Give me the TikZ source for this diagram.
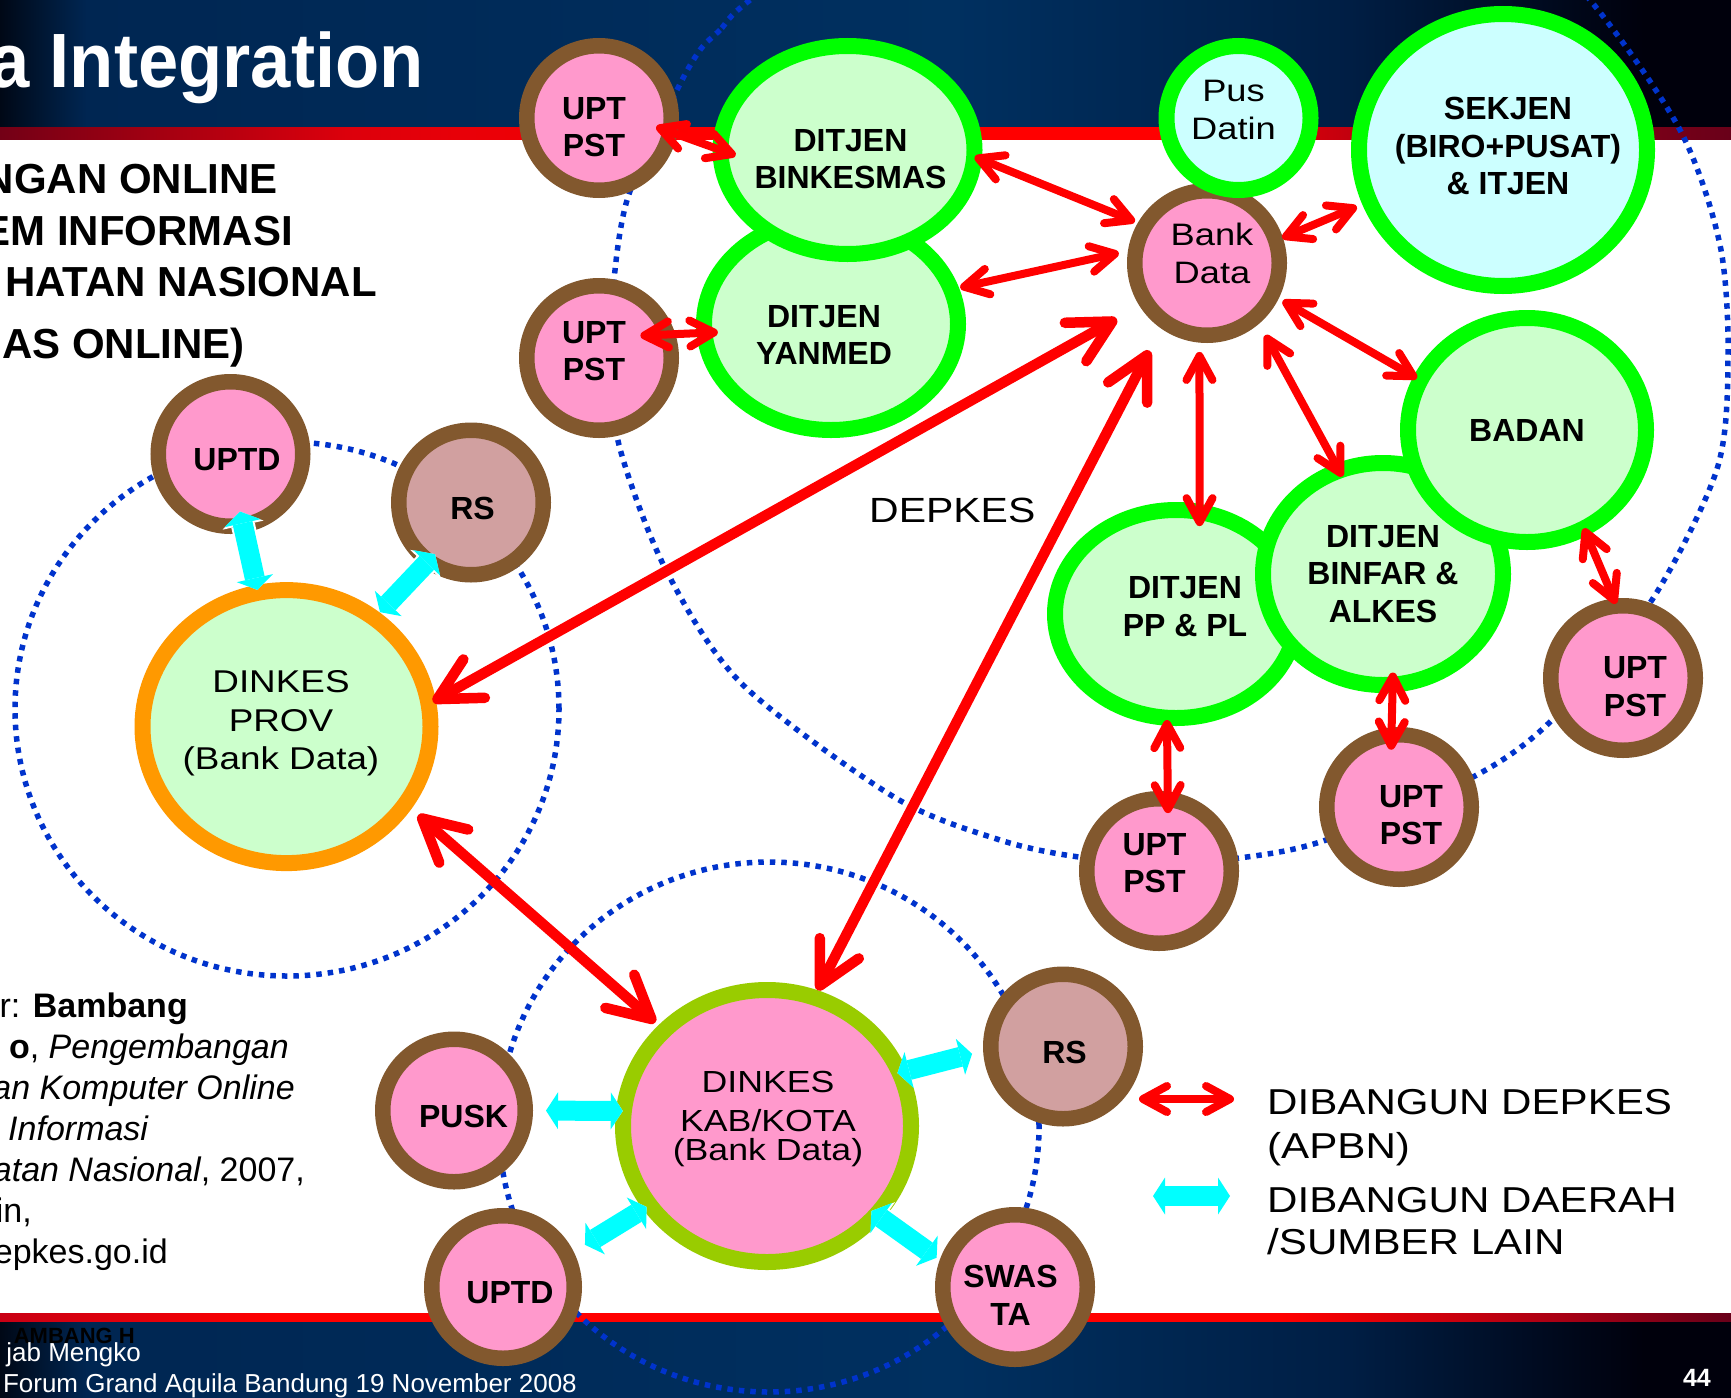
\documentclass[tikz,border=0pt]{standalone}
\usepackage{fontspec}
\setmainfont{Liberation Sans}
\newfontfamily\regf[FakeStretch=1.17]{Liberation Sans}
\newfontfamily\titlef[FakeStretch=0.94]{Liberation Sans}
\usetikzlibrary{shapes.geometric,arrows.meta}
\definecolor{brownc}{RGB}{130,88,46}
\definecolor{pinkc}{RGB}{255,153,204}
\definecolor{rosec}{RGB}{209,160,160}
\definecolor{greenc}{RGB}{0,255,0}
\definecolor{lgreen}{RGB}{204,255,204}
\definecolor{lcyan}{RGB}{204,255,255}
\definecolor{orangec}{RGB}{255,153,0}
\definecolor{ygreen}{RGB}{153,204,0}
\definecolor{dotblue}{RGB}{0,51,204}
\definecolor{redc}{RGB}{255,0,0}
\definecolor{cyanc}{RGB}{0,255,255}
\definecolor{nv0}{RGB}{0,8,22}
\definecolor{nv1}{RGB}{0,38,82}
\definecolor{nv2}{RGB}{0,48,96}
\definecolor{nv3}{RGB}{0,30,68}
\definecolor{nv4}{RGB}{0,0,12}
\definecolor{rd0}{RGB}{115,0,22}
\definecolor{rd1}{RGB}{220,0,12}
\definecolor{rd2}{RGB}{255,0,0}
\definecolor{rd3}{RGB}{170,0,20}
\definecolor{rd4}{RGB}{105,0,25}
\definecolor{rf0}{RGB}{200,0,20}
\pgfdeclarehorizontalshading{navyband}{100bp}{color(0bp)=(nv0); color(25bp)=(nv0); color(27.5bp)=(nv1); color(52.5bp)=(nv2); color(64bp)=(nv3); color(72.5bp)=(nv4); color(100bp)=(nv4)}
\pgfdeclarehorizontalshading{redband}{100bp}{color(0bp)=(rd0); color(25bp)=(rd0); color(35bp)=(rd1); color(45bp)=(rd2); color(59bp)=(rd2); color(66bp)=(rd3); color(75bp)=(rd4); color(100bp)=(rd4)}
\pgfdeclarehorizontalshading{redbandb}{100bp}{color(0bp)=(rf0); color(25bp)=(rf0); color(33bp)=(rd2); color(62bp)=(rd2); color(70bp)=(rd3); color(75bp)=(rd4); color(100bp)=(rd4)}
\newcommand\cyanlink[4]{%
  \draw[cyanhalo, shorten <=#3, shorten >=#4] (#1) -- (#2);
  \draw[cyanline, shorten <=#3, shorten >=#4] (#1) -- (#2);}
\begin{document}
\begin{tikzpicture}[x=1pt,y=-1pt,
  ring/.style={ellipse, inner sep=0pt, outer sep=0pt},
  unit/.style={ring, draw=brownc, line width=15.5pt, fill=pinkc, minimum width=144.5pt, minimum height=144.5pt},
  rsunit/.style={unit, fill=rosec},
  dit/.style={ring, draw=greenc, line width=16pt, fill=lgreen},
  blab/.style={align=center, font=\bfseries\fontsize{32}{37.5}\selectfont, inner sep=0pt},
  rlab/.style={align=center, font=\regf\fontsize{31}{38}\selectfont, inner sep=0pt},
  dotring/.style={draw=dotblue, line width=5.5pt, dash pattern=on 5.5pt off 6pt},
  redsmall/.style={draw=redc, line width=8pt, >={Straight Barb[length=24pt,width=26pt,round]}, <->},
  redbig/.style={draw=redc, line width=10.5pt, >={Straight Barb[length=42pt,width=44pt,round]}, <->},
  cyanline/.style={draw=cyanc, line width=20pt, >={Triangle[length=12pt,width=37pt,line width=0pt]}, <->},
  cyanhalo/.style={draw=white, line width=24pt, >={Triangle[length=14pt,width=42pt,line width=0pt]}, <->},
  txt/.style={inner sep=0pt, anchor=base east},
  head/.style={txt, font=\bfseries\fontsize{42}{48}\selectfont},
  cite/.style={txt, font=\fontsize{34}{41}\selectfont},
  legtxt/.style={inner sep=0pt, anchor=base west, font=\regf\fontsize{36}{43}\selectfont}
]
\useasboundingbox (0,0) rectangle (1731,1397);
\fill[white] (0,0) rectangle (1731,1397);
% bands
\shade[shading=navyband] (0,0) rectangle (1731,127);
\shade[shading=redband] (0,127) rectangle (1731,139);
\shade[shading=redbandb] (0,1313) rectangle (1731,1322);
\shade[shading=navyband] (0,1322) rectangle (1731,1397);

% dotted rings
\draw[dotring] (287,709) ellipse [x radius=272pt, y radius=267pt];
\draw[dotring] (769,1127) ellipse [x radius=270pt, y radius=265pt];
\draw[dotring] plot[smooth cycle] coordinates {(750,0) (720,30) (700,50) (677,90) (628,197) (613,290) (612,360) (619,445) (665,568) (741,683) (894,797) (1000,840) (1079,857) (1160,862) (1239,858) (1326,840) (1473,777) (1552,720) (1650,603) (1717,469) (1728,357) (1720,245) (1680,130) (1590,0) (1480,-110) (1200,-180) (900,-110)};

% title and texts
\node[txt, text=white, font=\titlef\bfseries\fontsize{77}{80}\selectfont] (ttl) at (424,88) {a Integration};
\node[head] (h1) at (278,193) {NGAN ONLINE};
\node[head] (h2) at (293,245) {EM INFORMASI};
\node[head] (h3) at (377,296) {HATAN NASIONAL};
\node[head] (h4) at (245,358) {AS ONLINE)};

\node[cite] (c1) at (188,1017) {r: \textbf{Bambang}};
\node[cite] (c2) at (289,1058) {\textbf{o}, \textit{Pengembangan}};
\node[cite] (c3) at (295,1099) {\textit{an Komputer Online}};
\node[cite] (c4) at (149,1140) {\textit{Informasi}};
\node[cite] (c5) at (305,1181) {\textit{atan Nasional}, 2007,};
\node[cite] (c6) at (32,1222) {in,};
\node[cite] (c7) at (168,1263) {epkes.go.id};

\node[txt, font=\bfseries\fontsize{22}{26}\selectfont] (f1) at (135,1343) {AMBANG H};
\node[txt, text=white, font=\fontsize{26}{30}\selectfont] (f2) at (141,1361) {jab Mengko};
\node[txt, text=white, font=\fontsize{26}{30}\selectfont] (f3) at (577,1392) {Forum Grand Aquila Bandung 19 November 2008};
\node[txt, text=white, font=\bfseries\fontsize{25}{30}\selectfont] (f4) at (1711,1386) {44};

\node[inner sep=0pt, anchor=base west, font=\regf\fontsize{35}{40}\selectfont] (depkes) at (869,522) {DEPKES};

% nodes
\node[unit] (upt1) at (599,118) {};
\node[unit] (upt2) at (599,358) {};
\node[dit, minimum width=254pt, minimum height=212pt] (yanmed) at (831,324) {};
\node[dit, minimum width=254pt, minimum height=208pt] (binkesmas) at (847.5,150) {};
\node[unit] (bankdata) at (1207,263) {};
\node[dit, fill=lcyan, minimum width=144pt, minimum height=144pt] (pusdatin) at (1238.5,118) {};
\node[dit, fill=lcyan, minimum width=288pt, minimum height=272pt] (sekjen) at (1503,150) {};
\node[dit, minimum width=242pt, minimum height=208pt] (pppl) at (1176,614) {};
\node[dit, minimum width=240pt, minimum height=222pt] (binfar) at (1383,574) {};
\node[dit, minimum width=238pt, minimum height=224pt] (badan) at (1527,430) {};
\node[unit] (uptR) at (1623,678) {};
\node[unit] (uptB1) at (1399,807) {};
\node[unit] (uptB2) at (1159,871) {};
\node[unit] (uptd1) at (230.5,454) {};
\node[rsunit] (rs1) at (471,502.5) {};
\node[ring, draw=orangec, line width=16pt, fill=lgreen, minimum width=288pt, minimum height=273pt] (dinkesprov) at (286.5,726.6) {};
\node[ring, draw=ygreen, line width=16pt, fill=pinkc, minimum width=288pt, minimum height=272pt] (dinkeskab) at (767,1126) {};
\node[unit, minimum width=142.5pt, minimum height=142.5pt] (pusk) at (454,1110.5) {};
\node[unit, minimum width=142.5pt, minimum height=142.5pt] (uptd2) at (503,1287) {};
\node[rsunit] (rs2) at (1063,1046.5) {};
\node[unit] (swasta) at (1015,1287) {};

% node texts
\node[blab] (upt1t) at ([xshift=-5pt,yshift=-9pt]upt1.center) {UPT\\PST};
\node[blab] (upt2t) at ([xshift=-5pt,yshift=7pt]upt2.center) {UPT\\PST};
\node[blab] (yanmedt) at ([xshift=-7pt,yshift=-11pt]yanmed.center) {DITJEN\\YANMED};
\node[blab] (binkesmast) at ([xshift=3pt,yshift=-9pt]binkesmas.center) {DITJEN\\BINKESMAS};
\node[rlab] (bankdatat) at ([xshift=5pt,yshift=10pt]bankdata.center) {Bank\\Data};
\node[rlab] (pusdatint) at ([xshift=-5pt,yshift=8pt]pusdatin.center) {Pus\\Datin};
\node[blab] (sekjent) at ([xshift=5pt,yshift=4pt]sekjen.center) {SEKJEN\\(BIRO+PUSAT)\\\& ITJEN};
\node[blab] (ppplt) at ([xshift=9pt,yshift=7.5pt]pppl.center) {DITJEN\\PP \& PL};
\node[blab] (binfart) at (binfar.center) {DITJEN\\BINFAR \&\\ALKES};
\node[blab] (badant) at (badan.center) {BADAN};
\node[blab] (uptRt) at ([xshift=12pt,yshift=-8.5pt]uptR.center) {UPT\\PST};
\node[blab] (uptB1t) at ([xshift=12pt,yshift=-8pt]uptB1.center) {UPT\\PST};
\node[blab] (uptB2t) at ([xshift=-4.5pt,yshift=8pt]uptB2.center) {UPT\\PST};
\node[blab] (uptd1t) at ([xshift=6.5pt,yshift=-5.5pt]uptd1.center) {UPTD};
\node[blab] (rs1t) at ([xshift=1.6pt,yshift=-5.5pt]rs1.center) {RS};
\node[rlab, font=\regf\fontsize{31.5}{38.5}\selectfont] (dinkesprovt) at ([xshift=-5.5pt,yshift=3pt]dinkesprov.center) {DINKES\\PROV\\(Bank Data)};
\node[rlab, font=\regf\fontsize{30.5}{39}\selectfont] (dinkeskabt) at ([xshift=1pt,yshift=7pt]dinkeskab.center) {DINKES\\KAB/KOTA\\[-10.4pt](Bank Data)};
\node[blab] (puskt) at ([xshift=9.5pt,yshift=-5.5pt]pusk.center) {PUSK};
\node[blab] (uptd2t) at ([xshift=7pt,yshift=-5.5pt]uptd2.center) {UPTD};
\node[blab] (rs2t) at ([xshift=1.6pt,yshift=-5.5pt]rs2.center) {RS};
\node[blab] (swastat) at ([xshift=-4.5pt,yshift=-8.5pt]swasta.center) {SWAS\\TA};

% red arrows
\draw[redsmall, shorten <=-14.6pt, shorten >=-16.1pt] (upt1.-11.45) -- (binkesmas.180.9);
\draw[redsmall, shorten <=0.5pt, shorten >=11pt] (binkesmas.-3.5) -- (bankdata.149.2);
\draw[redsmall, shorten <=9.3pt, shorten >=17.7pt] (yanmed.16.3) -- (bankdata.169);
\draw[redsmall, shorten <=-26.9pt, shorten >=-13.4pt] (upt2.19.5) -- (yanmed.184.5);
\draw[redsmall, shorten <=7.1pt, shorten >=13.9pt] (bankdata.18.1) -- (sekjen.201.2);
\draw[redsmall, shorten <=12.4pt, shorten >=4pt] (bankdata.-26.7) -- (badan.155.9);
\draw[redsmall, shorten <=20.9pt, shorten >=-6.6pt] (bankdata.-48.1) -- (binfar.113.3);
\draw[redsmall, shorten <=17.1pt, shorten >=-14.1pt] (bankdata.-96.4) -- (pppl.77.3);
\draw[redsmall, shorten <=0pt, shorten >=2.5pt] (badan.-60.1) -- (uptR.95);
\draw[redsmall, shorten <=-12.1pt, shorten >=-14.6pt] (binfar.-85.9) -- (uptB1.96.4);
\draw[redsmall, shorten <=2.3pt, shorten >=-13.8pt] (pppl.-95) -- (uptB2.83.6);
\draw[redbig, shorten <=33.9pt, shorten >=5pt] (bankdata.-147.8) -- (dinkesprov.9.4);
\draw[redbig, shorten <=32.8pt, shorten >=8.1pt] (bankdata.-126.5) -- (dinkeskab.70.85);
\draw[redbig, shorten <=17.1pt, shorten >=12.2pt] (dinkesprov.-33.8) -- (dinkeskab.137.2);

% cyan arrows
\cyanlink{uptd1.-80.8}{dinkesprov.102.8}{-14pt}{3pt}
\cyanlink{rs1.-126.8}{dinkesprov.51.6}{-9.4pt}{8.5pt}
\cyanlink{pusk.0}{dinkeskab.174}{20.75pt}{1.1pt}
\cyanlink{uptd2.26.6}{dinkeskab.-146.6}{21pt}{3.7pt}
\cyanlink{swasta.162}{dinkeskab.-39.8}{11.9pt}{-6pt}
\cyanlink{rs2.182.5}{dinkeskab.22.7}{19.3pt}{-2pt}

% legend
\coordinate (lr1) at (1139,1099);
\coordinate (lr2) at (1234,1099);
\draw[redsmall] (lr1) -- (lr2);
\coordinate (lc1) at (1153,1196);
\coordinate (lc2) at (1230,1196);
\cyanlink{lc1}{lc2}{0pt}{0pt}
\node[legtxt] (leg1) at (1267,1114) {DIBANGUN DEPKES};
\node[legtxt] (leg2) at (1267,1158) {(APBN)};
\node[legtxt] (leg3) at (1267,1212) {DIBANGUN DAERAH};
\node[legtxt] (leg4) at (1267,1254) {/SUMBER LAIN};
\end{tikzpicture}
\end{document}
